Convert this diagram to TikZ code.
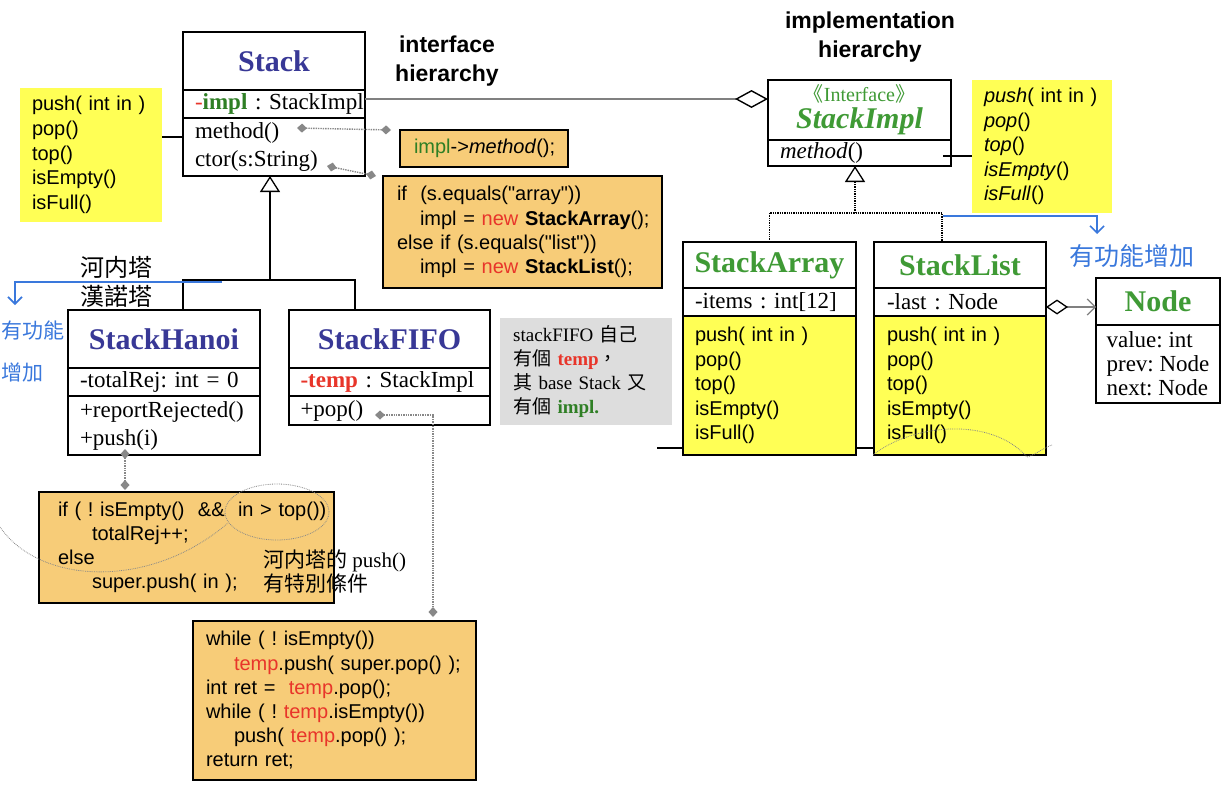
\documentclass[tikz,border=0pt]{standalone}
\usepackage{fontspec}
\setmainfont{Liberation Serif}
\setsansfont{Liberation Sans}[Ligatures=TeXOff]
\newfontfamily\cjk{Noto Sans CJK TC}
\frenchspacing
\usetikzlibrary{arrows.meta,positioning,calc,backgrounds}
\definecolor{stkblue}{HTML}{383896}
\definecolor{implgreen}{HTML}{3F9A35}
\definecolor{codegreen}{HTML}{2F7F25}
\definecolor{redc}{HTML}{E8352A}
\definecolor{codeorg}{HTML}{F7CC78}
\definecolor{opsyel}{HTML}{FFFF55}
\definecolor{notegray}{HTML}{DDDDDD}
\definecolor{handblue}{HTML}{3A78DC}
\definecolor{linkgray}{HTML}{888888}
\tikzset{
  box/.style={draw=black,line width=1.2pt,fill=white,anchor=north west,inner sep=0pt,outer sep=0pt},
  ttl/.style={box,font=\bfseries\fontsize{30}{34}\selectfont,text=stkblue},
  gttl/.style={ttl,text=implgreen},
  part/.style={box,align=left,inner xsep=12pt,font=\fontsize{23}{28}\selectfont},
  ops/.style={part,fill=opsyel,font=\sffamily\fontsize{20}{24.4}\selectfont},
  memo/.style={anchor=north west,inner sep=0pt,outer sep=0pt,fill=opsyel,align=left,inner xsep=12pt,font=\sffamily\fontsize{20}{24.6}\selectfont},
  code/.style={draw=black,line width=1.2pt,fill=codeorg,anchor=north west,inner sep=0pt,outer sep=0pt,align=left,font=\sffamily\fontsize{20}{24.2}\selectfont},
  head/.style={font=\sffamily\bfseries\fontsize{23}{28.5}\selectfont,align=center,inner sep=0pt},
  cjktx/.style={font=\cjk\fontsize{24}{29}\selectfont,align=left,inner sep=0pt},
  hand/.style={draw=handblue,line width=1.6pt,-{Straight Barb[length=7pt,width=14pt]}},
  handtx/.style={text=handblue,font=\cjk\fontsize{21}{42}\selectfont,inner sep=0pt,align=left},
  gen/.style={line width=1.3pt,-{Triangle[open,length=16pt,width=20pt]}},
  realize/.style={gen,densely dotted},
  agg/.style={draw=gray,line width=1.2pt},
  dlink/.style={draw=linkgray,line width=1.4pt,densely dotted,{Diamond[length=10pt,width=9pt,fill=linkgray]}-{Diamond[length=10pt,width=9pt,fill=linkgray]}},
  scrib/.style={draw=linkgray,line width=0.8pt,densely dotted},
}
\begin{document}
\begin{tikzpicture}[x=1pt,y=-1pt]
  \useasboundingbox (0,0) rectangle (1224,790);
  % interface side
  \node[ttl,minimum width=182pt,minimum height=58pt] (stackT) at (183,32) {Stack};
  \node[part,text width=158pt,minimum height=28pt] (stackA) at (183,90) {\mbox{{\color{redc}-}{\color{codegreen}\bfseries impl} : StackImpl}};
  \node[part,text width=158pt,minimum height=58pt] (stackM) at (183,118) {method()\\ctor(s:String)};
  \node[memo,text width=118pt,minimum height=134pt] (opsL) at (20,88) {push( int in )\\pop()\\top()\\isEmpty()\\isFull()};
  \coordinate (mref) at ([yshift=10pt]stackM.west);
  \draw[line width=1.2pt] (mref) -- (mref -| opsL.east);
  \node[head] (ifaceH) at (447,61) {interface\\hierarchy};
  \node[head] (implH) at (870,37) {implementation\\hierarchy};
  % implementation side
  \node[gttl,minimum width=183pt,minimum height=60pt,align=center] (implT) at (768,80) {{\mdseries\fontsize{20}{22}\selectfont{\cjk 《}Interface{\cjk 》}}\\[-7pt]\textit{StackImpl}};
  \node[part,text width=159pt,minimum height=26pt,inner xsep=12pt] (implM) at (768,140) {\textit{method}()};
  \node[memo,text width=116pt,minimum height=133pt] (opsR) at (972,80) {\textit{push}( int in )\\\textit{pop}()\\\textit{top}()\\\textit{isEmpty}()\\\textit{isFull}()};
  \coordinate (iref) at ([shift={(-8pt,-3pt)}]implM.east);
  \draw[line width=1.2pt] (iref) -- (iref -| opsR.west);
  \draw[agg,-{Diamond[open,color=black,length=33pt,width=18pt,line width=1.4pt]}] ([yshift=5pt]stackA.east) -- ([yshift=5pt]stackA.east -| implT.west);
  % code notes of Stack
  \node[code,text width=140pt,minimum height=37pt,inner xsep=14pt] (code1) at (400,130) {\mbox{{\color{codegreen}impl}->\textit{method}();}};
  \node[code,text width=251pt,minimum height=112pt,inner xsep=14pt] (code2) at (383,176) {if\ \ (s.equals("array"))\\
    \mbox{\hspace*{23pt}impl = {\color{redc}new} \textbf{StackArray}();}\\
    else if (s.equals("list"))\\
    \mbox{\hspace*{23pt}impl = {\color{redc}new} \textbf{StackList}();}};
  \coordinate (mthEnd) at ([shift={(114pt,-10pt)}]stackM.north west);
  \coordinate (ctorEnd) at ([shift={(144pt,-48pt)}]stackM.north west);
  \draw[dlink] (mthEnd) -- ([xshift=-9pt]code1.north west);
  \draw[dlink] (ctorEnd) -- ([xshift=-7pt]code2.north west);
  % subclasses of Stack
  \coordinate (hub) at ([shift={(-4pt,-104pt)}]stackM.south);
  \draw[gen] (hub) -- ([xshift=-4pt]stackM.south);
  \node[ttl,minimum width=192pt,minimum height=58pt] (hanoiT) at (68,310) {StackHanoi};
  \node[part,text width=168pt,minimum height=28pt] (hanoiA) at (68,368) {\mbox{-totalRej: int = 0}};
  \node[part,text width=168pt,minimum height=59pt] (hanoiM) at (68,396) {+reportRejected()\\+push(i)};
  \node[ttl,minimum width=201pt,minimum height=58pt] (fifoT) at (289,310) {StackFIFO};
  \node[part,text width=178pt,minimum height=28pt,inner xsep=11.5pt] (fifoA) at (289,368) {\mbox{{\color{redc}\bfseries -temp} : StackImpl}};
  \node[part,text width=178pt,minimum height=29pt,inner xsep=11.5pt] (fifoM) at (289,396) {+pop()};
  \draw[line width=1.3pt] ([xshift=115pt]hanoiT.north west) |- (hub) -| ([xshift=66pt]fifoT.north west);
  \node[cjktx] (hanoiCn) at (116,282) {河内塔\\漢諾塔};
  \coordinate (blueL) at ([shift={(-48pt,-2pt)}]hub);
  \coordinate (blueLend) at ([shift={(-53pt,5pt)}]hanoiT.north west);
  \draw[hand] (blueL) -| (blueLend);
  \node[handtx,anchor=west] (noteL) at (1,352) {有功能\\增加};
  \node[anchor=north west,fill=notegray,inner sep=0pt,inner xsep=13pt,text width=146pt,minimum height=107pt,align=left,font=\fontsize{19}{24}\selectfont] (fifoNote) at (500,318)
    {stackFIFO {\cjk 自己}\\{\cjk 有個} {\color{redc}\bfseries temp}{\cjk ，}\\{\cjk 其} base Stack {\cjk 又}\\{\cjk 有個} {\color{codegreen}\bfseries impl.}};
  % code notes of subclasses
  \node[code,text width=257pt,minimum height=111pt,inner xsep=19pt] (code3) at (39,492) {\mbox{if ( ! isEmpty()\ \ \&\&\ \ in > top())}\\
    \hspace*{34pt}totalRej++;\\
    else\\
    \mbox{\hspace*{34pt}super.push( in );}};
  \node[anchor=west,inner sep=0pt,align=left,font=\fontsize{21}{24}\selectfont] (hanoiPush) at (263,572) {{\cjk 河内塔的} push()\\{\cjk 有特別條件}};
  \coordinate (pushEnd) at ([shift={(57pt,6pt)}]hanoiM.south west);
  \draw[dlink] (pushEnd) -- ([shift={(86pt,2pt)}]code3.north west);
  \draw[scrib] (277,512) ellipse [x radius=52pt, y radius=28pt];
  \draw[scrib] (0,527) .. controls (40,585) and (150,590) .. (228,523);
  \node[code,text width=257pt,minimum height=159pt,inner xsep=13pt] (code4) at (193,621) {while ( ! isEmpty())\\
    \mbox{\hspace*{28pt}{\color{redc}temp}.push( super.pop() );}\\
    \mbox{int ret =\ \ {\color{redc}temp}.pop();}\\
    \mbox{while ( ! {\color{redc}temp}.isEmpty())}\\
    \mbox{\hspace*{28pt}push( {\color{redc}temp}.pop() );}\\
    return ret;};
  \coordinate (popEnd) at ([shift={(86pt,-4.5pt)}]fifoM.west);
  \draw[dlink] (popEnd) -| ([shift={(240pt,4pt)}]code4.north west);
  % implementations
  \node[gttl,minimum width=173pt,minimum height=46pt] (arrayT) at (683,242) {StackArray};
  \node[part,text width=149pt,minimum height=28pt] (arrayA) at (683,288) {\mbox{-items : int[12]}};
  \node[ops,text width=149pt,minimum height=139pt] (arrayM) at (683,316) {push( int in )\\pop()\\top()\\isEmpty()\\isFull()};
  \node[gttl,minimum width=172pt,minimum height=46pt] (listT) at (874,242) {StackList};
  \node[part,text width=146pt,minimum height=28pt,inner xsep=13pt] (listA) at (874,288) {\mbox{-last : Node}};
  \node[ops,text width=146pt,minimum height=139pt,inner xsep=13pt] (listM) at (874,316) {push( int in )\\pop()\\top()\\isEmpty()\\isFull()};
  \coordinate (hub2) at ([shift={(-4.5pt,-47pt)}]implM.south);
  \draw[realize] (hub2) -- ([xshift=-4.5pt]implM.south);
  \draw[densely dotted,line width=1.3pt] (arrayT.north) |- (hub2) -| ([xshift=-18pt]listT.north);
  \begin{scope}[on background layer]
    \draw[line width=1.2pt] ([shift={(-26pt,7pt)}]arrayM.south west) -- ([yshift=7pt]listM.south west);
  \end{scope}
  \draw[scrib] (873,455) .. controls (910,425) and (990,415) .. (1027,457) .. controls (1035,455) and (1045,447) .. (1052,445);
  \node[gttl,minimum width=124pt,minimum height=47pt] (nodeT) at (1096,278) {Node};
  \node[part,minimum width=124pt,minimum height=78pt,inner xsep=0pt,font=\fontsize{23}{24}\selectfont] (nodeA) at (1096,325) {value: int\\prev: Node\\next: Node};
  \draw[agg,{Diamond[open,color=black,length=22pt,width=15pt,line width=1.3pt]}-{Straight Barb[length=8pt,width=16pt]}] ([yshift=-5pt]listA.east) -- ([yshift=-5pt]listA.east -| nodeT.west);
  \coordinate (blueR) at ([shift={(88pt,-3pt)}]hub2);
  \coordinate (blueRend) at ([shift={(1pt,44pt)}]nodeT.north west);
  \draw[hand] (blueR) -| (blueRend);
  \node[handtx,font=\cjk\fontsize{25}{30}\selectfont] (noteR) at (1132,256) {有功能增加};
\end{tikzpicture}
\end{document}
